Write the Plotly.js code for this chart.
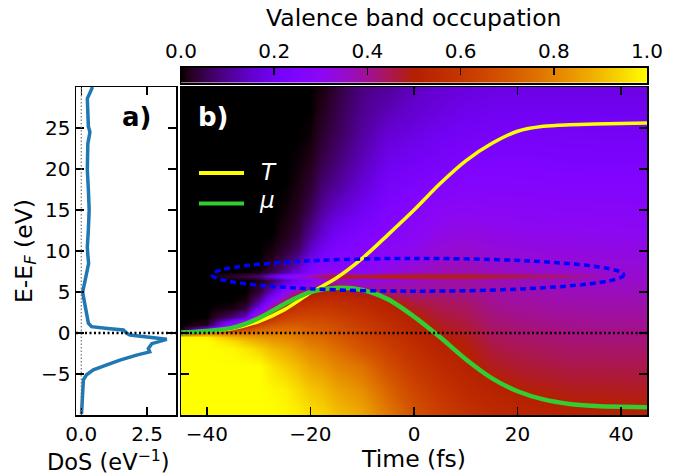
<!DOCTYPE html>
<html>
<head>
<meta charset="utf-8">
<script src="https://cdn.plot.ly/plotly-3.0.1.min.js"></script>
<style>html,body{margin:0;padding:0;background:#fff;}#chart{width:678px;height:474px;}</style>
</head>
<body>
<div id="chart"></div>
<script>
// ---------- data ----------
const timeFs = [-45, -40, -35, -32.5, -30, -27.5, -25, -22.5, -20, -17.5, -15, -10, -5, 0, 5, 10, 15, 20, 30, 37.5, 45];
const energyEv = [-10, -7, -4, -2, -1, -0.5, 0, 0.5, 1, 2, 3, 4, 5, 6, 6.5, 7, 7.5, 8, 10, 12, 15, 18, 21, 24, 27, 30];
// valence band occupation, one row per energy, one column per time
const occupation = [
  [1, 1, 1, 1, 1, 1, 0.99, 0.98, 0.955, 0.94, 0.91, 0.87, 0.78, 0.69, 0.628, 0.58, 0.549, 0.53, 0.513, 0.51, 0.509],
  [1, 1, 1, 1, 1, 0.99, 0.98, 0.95, 0.92, 0.90, 0.865, 0.82, 0.73, 0.645, 0.588, 0.545, 0.516, 0.499, 0.484, 0.482, 0.48],
  [1, 1, 1, 1, 1, 0.96, 0.93, 0.90, 0.86, 0.84, 0.805, 0.76, 0.67, 0.60, 0.548, 0.51, 0.484, 0.469, 0.454, 0.452, 0.451],
  [1, 1, 0.99, 0.97, 0.94, 0.90, 0.875, 0.84, 0.81, 0.785, 0.754, 0.69, 0.625, 0.566, 0.52, 0.50, 0.462, 0.448, 0.435, 0.433, 0.432],
  [1, 1, 0.95, 0.91, 0.88, 0.85, 0.83, 0.81, 0.77, 0.755, 0.725, 0.665, 0.605, 0.55, 0.507, 0.49, 0.451, 0.438, 0.425, 0.423, 0.422],
  [1, 0.98, 0.89, 0.86, 0.84, 0.82, 0.81, 0.78, 0.755, 0.74, 0.71, 0.65, 0.595, 0.542, 0.50, 0.485, 0.446, 0.433, 0.42, 0.418, 0.417],
  [0.6, 0.78, 0.77, 0.77, 0.78, 0.78, 0.78, 0.76, 0.735, 0.72, 0.695, 0.64, 0.585, 0.533, 0.493, 0.48, 0.44, 0.428, 0.416, 0.414, 0.413],
  [0, 0.22, 0.57, 0.66, 0.72, 0.74, 0.74, 0.74, 0.715, 0.70, 0.68, 0.63, 0.575, 0.525, 0.486, 0.47, 0.435, 0.423, 0.411, 0.409, 0.408],
  [0, 0.02, 0.35, 0.53, 0.64, 0.69, 0.71, 0.71, 0.69, 0.685, 0.66, 0.615, 0.564, 0.517, 0.48, 0.465, 0.43, 0.418, 0.406, 0.404, 0.403],
  [0, 0, 0.08, 0.15, 0.47, 0.57, 0.63, 0.65, 0.65, 0.645, 0.63, 0.59, 0.544, 0.50, 0.466, 0.45, 0.42, 0.408, 0.397, 0.395, 0.394],
  [0, 0, 0.01, 0.04, 0.2, 0.42, 0.55, 0.59, 0.60, 0.60, 0.59, 0.56, 0.523, 0.48, 0.452, 0.44, 0.41, 0.399, 0.388, 0.386, 0.385],
  [0, 0, 0, 0.01, 0.09, 0.27, 0.42, 0.53, 0.55, 0.56, 0.555, 0.535, 0.5, 0.45, 0.44, 0.425, 0.40, 0.389, 0.378, 0.376, 0.375],
  [0, 0, 0, 0, 0.04, 0.15, 0.29, 0.42, 0.46, 0.51, 0.51, 0.46, 0.42, 0.41, 0.41, 0.41, 0.388, 0.38, 0.369, 0.367, 0.366],
  [0, 0, 0, 0, 0.02, 0.08, 0.18, 0.25, 0.3, 0.38, 0.42, 0.34, 0.36, 0.37, 0.385, 0.392, 0.378, 0.37, 0.36, 0.358, 0.357],
  [0, 0, 0, 0, 0.01, 0.06, 0.14, 0.22, 0.27, 0.32, 0.36, 0.31, 0.34, 0.36, 0.38, 0.386, 0.373, 0.366, 0.355, 0.354, 0.353],
  [0, 0, 0.03, 0.05, 0.08, 0.18, 0.28, 0.33, 0.38, 0.45, 0.5, 0.5, 0.52, 0.52, 0.5, 0.5, 0.48, 0.46, 0.42, 0.35, 0.349],
  [0, 0, 0, 0, 0.01, 0.045, 0.1, 0.18, 0.25, 0.29, 0.3, 0.29, 0.32, 0.35, 0.37, 0.375, 0.363, 0.356, 0.347, 0.346, 0.345],
  [0, 0, 0, 0, 0, 0.035, 0.08, 0.14, 0.23, 0.28, 0.28, 0.28, 0.31, 0.34, 0.365, 0.37, 0.358, 0.351, 0.342, 0.341, 0.34],
  [0, 0, 0, 0, 0, 0.01, 0.035, 0.07, 0.15, 0.21, 0.25, 0.27, 0.29, 0.31, 0.34, 0.348, 0.338, 0.333, 0.325, 0.323, 0.322],
  [0, 0, 0, 0, 0, 0, 0.015, 0.04, 0.1, 0.16, 0.21, 0.25, 0.27, 0.29, 0.32, 0.327, 0.32, 0.315, 0.307, 0.306, 0.305],
  [0, 0, 0, 0, 0, 0, 0.005, 0.02, 0.055, 0.11, 0.15, 0.2, 0.25, 0.27, 0.29, 0.296, 0.29, 0.289, 0.283, 0.282, 0.281],
  [0, 0, 0, 0, 0, 0, 0, 0.01, 0.03, 0.075, 0.1, 0.16, 0.22, 0.24, 0.255, 0.267, 0.266, 0.265, 0.26, 0.259, 0.258],
  [0, 0, 0, 0, 0, 0, 0, 0.004, 0.015, 0.05, 0.075, 0.13, 0.19, 0.21, 0.225, 0.24, 0.241, 0.242, 0.237, 0.236, 0.236],
  [0, 0, 0, 0, 0, 0, 0, 0, 0.005, 0.032, 0.055, 0.11, 0.16, 0.18, 0.2, 0.215, 0.218, 0.22, 0.217, 0.216, 0.216],
  [0, 0, 0, 0, 0, 0, 0, 0, 0, 0.02, 0.045, 0.095, 0.13, 0.155, 0.175, 0.19, 0.197, 0.2, 0.197, 0.196, 0.196],
  [0, 0, 0, 0, 0, 0, 0, 0, 0, 0.01, 0.035, 0.085, 0.105, 0.135, 0.155, 0.17, 0.177, 0.181, 0.179, 0.179, 0.179]
];

// density of states (panel a)
const dosEnergy = [-9.9, -9.0, -7.5, -6.5, -5.7, -5.1, -4.5, -3.9, -3.3, -2.7, -2.3, -1.9, -1.3, -0.77, -0.5, -0.24, -0.04, 0.37, 0.55, 0.77, 1.2, 2.0, 3.2, 4.0, 5.0, 6.0, 6.9, 7.5, 8.5, 9.5, 10.5, 12.6, 15.0, 17.5, 19.9, 23.1, 24.5, 25.2, 27.0, 28.6, 29.8, 30.0];
const dosValue  = [0.01, 0.02, 0.03, 0.05, 0.08, 0.2, 0.46, 0.97, 1.47, 2.1, 2.6, 2.55, 2.68, 3.25, 2.5, 1.85, 1.73, 1.6, 1.0, 0.39, 0.27, 0.22, 0.14, 0.1, 0.05, 0.12, 0.18, 0.2, 0.28, 0.25, 0.23, 0.27, 0.3, 0.27, 0.23, 0.25, 0.33, 0.27, 0.24, 0.23, 0.4, 0.42];

// electronic temperature T and chemical potential mu (panel b)
const curveTime = [-45, -40, -35, -30, -25, -20, -15, -10, -5, 0, 5, 10, 15, 20, 25, 30, 35, 40, 45];
const temperatureEv = [0.05, 0.2, 0.55, 1.4, 2.85, 4.9, 6.7, 9.1, 12.0, 15.0, 18.2, 21.0, 23.1, 24.6, 25.2, 25.4, 25.5, 25.55, 25.6];
const chemPotEv = [0.05, 0.25, 0.65, 1.8, 3.55, 5.0, 5.5, 5.25, 4.1, 2.0, -0.5, -3.2, -5.5, -7.1, -8.1, -8.65, -8.9, -9.0, -9.05];

// colour bar
const cbarLevels = [0, 0.1, 0.2, 0.3, 0.4, 0.5, 0.6, 0.7, 0.8, 0.9, 1.0];
const cbarTicks = [0, 0.2, 0.4, 0.6, 0.8, 1.0];
const cbarLabels = ['0.0', '0.2', '0.4', '0.6', '0.8', '1.0'];
const timeTicks = [-40, -20, 0, 20, 40];
const energyTicks = [-5, 0, 5, 10, 15, 20, 25];
const dosTicks = [0, 2.5];
const dosLabels = ['0.0', '2.5'];

// ---------- style ----------
const gnuplotScale = [
  [0, 'rgb(0,0,0)'], [0.01, 'rgb(26,0,16)'], [0.025, 'rgb(40,0,40)'], [0.05, 'rgb(57,0,79)'],
  [0.1, 'rgb(81,0,150)'], [0.15, 'rgb(99,1,206)'], [0.2, 'rgb(114,2,243)'], [0.25, 'rgb(128,4,255)'],
  [0.3, 'rgb(140,7,243)'], [0.35, 'rgb(151,11,206)'], [0.4, 'rgb(161,16,150)'], [0.45, 'rgb(171,23,79)'],
  [0.5, 'rgb(180,32,0)'], [0.55, 'rgb(189,42,0)'], [0.6, 'rgb(198,55,0)'], [0.65, 'rgb(206,70,0)'],
  [0.7, 'rgb(213,87,0)'], [0.75, 'rgb(221,108,0)'], [0.8, 'rgb(228,131,0)'], [0.85, 'rgb(235,157,0)'],
  [0.9, 'rgb(242,186,0)'], [0.95, 'rgb(249,219,0)'], [1, 'rgb(255,255,0)']
];
const FONT = 'DejaVu Sans, Verdana, sans-serif';
const W = 678, H = 474;
const px = v => v / W;
const py = v => (H - v) / H;

const frame = {
  showline: true, linecolor: 'black', linewidth: 1.5, mirror: 'allticks',
  ticks: 'inside', ticklen: 8, tickwidth: 1.5, tickcolor: 'black',
  showgrid: false, zeroline: false, tickfont: {family: FONT, size: 20, color: 'black'}
};

const traces = [
  {
    type: 'heatmap', x: timeFs, y: energyEv, z: occupation,
    colorscale: gnuplotScale, zmin: 0, zmax: 1, zsmooth: 'best',
    showscale: false, xaxis: 'x2', yaxis: 'y2', hoverinfo: 'skip'
  },
  {
    type: 'heatmap', x: cbarLevels, y: [0, 1], z: [cbarLevels, cbarLevels],
    colorscale: gnuplotScale, zmin: 0, zmax: 1, zsmooth: 'best',
    showscale: false, xaxis: 'x3', yaxis: 'y3', hoverinfo: 'skip'
  },
  {
    type: 'scatter', mode: 'lines', x: dosValue, y: dosEnergy,
    line: {color: '#1f77b4', width: 3.5}, xaxis: 'x', yaxis: 'y', showlegend: false
  },
  {
    type: 'scatter', mode: 'lines', name: 'T', x: curveTime, y: temperatureEv,
    line: {color: '#ffff00', width: 3.5, shape: 'spline', smoothing: 0.8},
    xaxis: 'x2', yaxis: 'y2', showlegend: false
  },
  {
    type: 'scatter', mode: 'lines', name: 'μ', x: curveTime, y: chemPotEv,
    line: {color: '#33cc33', width: 4.5, shape: 'spline', smoothing: 0.8},
    xaxis: 'x2', yaxis: 'y2', showlegend: false
  }
];

const layout = {
  width: W, height: H,
  margin: {l: 0, r: 0, t: 0, b: 0},
  paper_bgcolor: 'white', plot_bgcolor: 'white',
  font: {family: FONT, color: 'black'},
  showlegend: false,
  xaxis: Object.assign({}, frame, {
    domain: [px(76), px(176)], range: [-0.2, 3.6], anchor: 'y',
    tickvals: dosTicks, ticktext: dosLabels
  }),
  yaxis: Object.assign({}, frame, {
    domain: [py(415), py(87)], range: [-10, 30], anchor: 'x',
    tickvals: energyTicks,
    title: {text: 'E-E<sub><i>F</i></sub> (eV)', font: {family: FONT, size: 23.5}, standoff: 2}
  }),
  xaxis2: Object.assign({}, frame, {
    domain: [px(181), px(647)], range: [-45, 45], anchor: 'y2',
    tickvals: timeTicks,
    title: {text: 'Time (fs)', font: {family: FONT, size: 23.5}, standoff: 3}
  }),
  yaxis2: Object.assign({}, frame, {
    domain: [py(415), py(87)], range: [-10, 30], anchor: 'x2',
    tickvals: energyTicks, showticklabels: false
  }),
  xaxis3: Object.assign({}, frame, {
    domain: [px(181), px(647)], range: [0, 1], anchor: 'y3', side: 'top',
    tickvals: cbarTicks, ticktext: cbarLabels, ticklen: 7, mirror: true
  }),
  yaxis3: Object.assign({}, frame, {
    domain: [py(83), py(67.5)], range: [0, 1], anchor: 'x3',
    ticks: '', showticklabels: false, mirror: true
  }),
  shapes: [
    {type: 'line', xref: 'x', yref: 'y domain', x0: 0, x1: 0, y0: 0, y1: 1,
     line: {color: '#777', width: 1.2, dash: '1.5px,2px'}},
    {type: 'line', xref: 'x domain', yref: 'y', x0: 0, x1: 1, y0: 0, y1: 0,
     line: {color: 'black', width: 2.3, dash: '2px,2.5px'}},
    {type: 'line', xref: 'x2 domain', yref: 'y2', x0: 0, x1: 1, y0: 0, y1: 0,
     line: {color: 'black', width: 2.3, dash: '2px,2.5px'}},
    {type: 'circle', xref: 'x2', yref: 'y2', x0: -39, x1: 40.5, y0: 5.1, y1: 9.1,
     line: {color: '#0000ff', width: 3.5, dash: '6px,4px'}},
    {type: 'line', xref: 'paper', yref: 'paper', x0: px(199), x1: px(244), y0: py(173), y1: py(173),
     line: {color: '#ffff00', width: 4}},
    {type: 'line', xref: 'paper', yref: 'paper', x0: px(199), x1: px(244), y0: py(203.5), y1: py(203.5),
     line: {color: '#33cc33', width: 4}}
  ],
  annotations: [
    {xref: 'paper', yref: 'paper', x: px(414), y: py(18), text: 'Valence band occupation',
     showarrow: false, xanchor: 'center', yanchor: 'middle', font: {family: FONT, size: 23.5, color: 'black'}},
    {xref: 'paper', yref: 'paper', x: px(108), y: py(460), text: 'DoS (eV<sup>−1</sup>)',
     showarrow: false, xanchor: 'center', yanchor: 'middle', font: {family: FONT, size: 22.5, color: 'black'}},
    {xref: 'paper', yref: 'paper', x: px(136), y: py(117), text: '<b>a)</b>',
     showarrow: false, xanchor: 'center', yanchor: 'middle', font: {family: FONT, size: 26, color: 'black'}},
    {xref: 'paper', yref: 'paper', x: px(213.5), y: py(117), text: '<b>b)</b>',
     showarrow: false, xanchor: 'center', yanchor: 'middle', font: {family: FONT, size: 26, color: 'white'}},
    {xref: 'paper', yref: 'paper', x: px(259), y: py(172), text: '<i>T</i>',
     showarrow: false, xanchor: 'left', yanchor: 'middle', font: {family: FONT, size: 23, color: 'white'}},
    {xref: 'paper', yref: 'paper', x: px(257), y: py(200), text: '<i>μ</i>',
     showarrow: false, xanchor: 'left', yanchor: 'middle', font: {family: FONT, size: 23, color: 'white'}}
  ]
};

Plotly.newPlot('chart', traces, layout, {staticPlot: true, displayModeBar: false});
</script>
</body>
</html>
